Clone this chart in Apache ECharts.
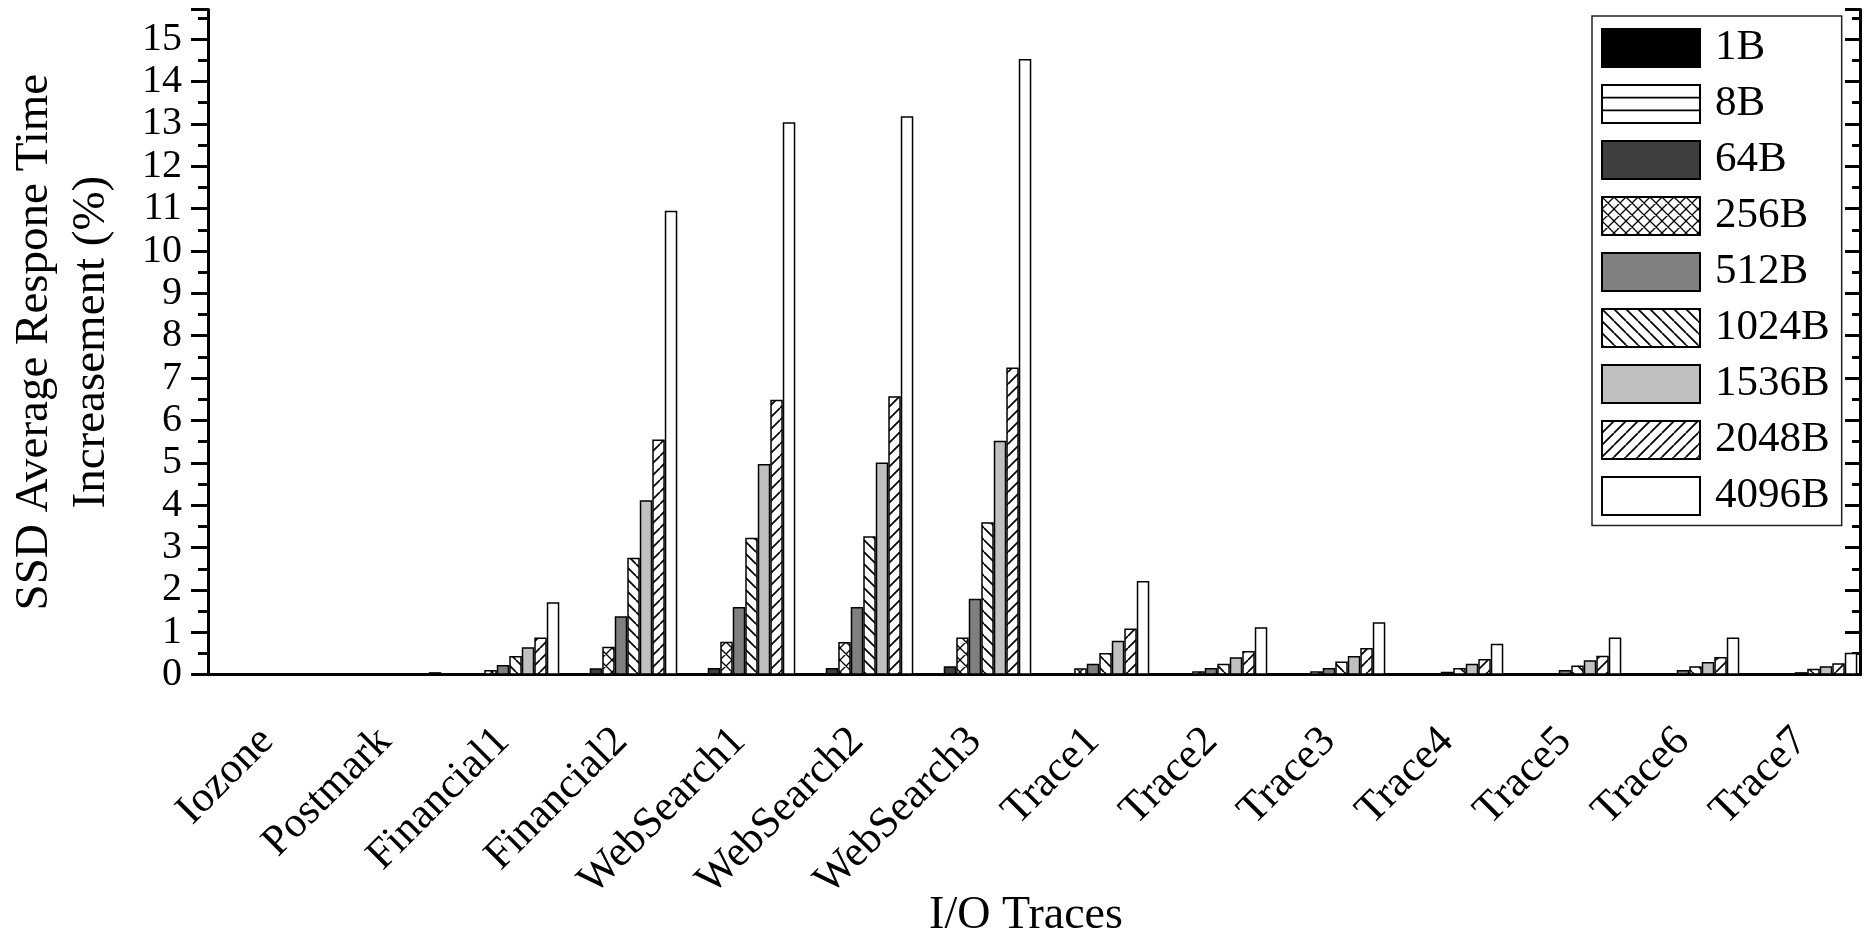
<!DOCTYPE html>
<html>
<head>
<meta charset="utf-8">
<script src="https://cdn.jsdelivr.net/npm/echarts@6/dist/echarts.min.js"></script>
<style>
html,body{margin:0;padding:0;background:#fff;}
#chart{width:1866px;height:936px;}
</style>
</head>
<body>
<div id="chart"></div>
<script>
// ---- data ----
const categories = ['Iozone','Postmark','Financial1','Financial2','WebSearch1','WebSearch2','WebSearch3','Trace1','Trace2','Trace3','Trace4','Trace5','Trace6','Trace7'];
const seriesNames = ['1B','8B','64B','256B','512B','1024B','1536B','2048B','4096B'];
const v1B    = [0,0,0,0,0,0,0,0,0,0,0,0,0,0];
const v8B    = [0,0,0,0,0,0,0,0,0,0,0,0,0,0];
const v64B   = [0,0,0,0.15,0.16,0.16,0.20,0,0,0,0,0,0,0];
const v256B  = [0,0,0.11,0.66,0.78,0.77,0.88,0.15,0.08,0.08,0.03,0.03,0.03,0.03];
const v512B  = [0,0,0.23,1.38,1.60,1.60,1.79,0.26,0.16,0.16,0.07,0.11,0.11,0.06];
const v1024B = [0,0,0.44,2.76,3.23,3.27,3.60,0.51,0.26,0.31,0.16,0.22,0.20,0.14];
const v1536B = [0,0,0.65,4.12,4.97,5.01,5.52,0.80,0.41,0.44,0.26,0.34,0.30,0.20];
const v2048B = [0,0,0.88,5.55,6.49,6.57,7.25,1.09,0.56,0.63,0.37,0.45,0.42,0.27];
const v4096B = [0,0.06,1.71,10.95,13.04,13.18,14.53,2.21,1.12,1.24,0.73,0.88,0.88,0.52];
const yTicks = [0,1,2,3,4,5,6,7,8,9,10,11,12,13,14,15];
const values = [v1B,v8B,v64B,v256B,v512B,v1024B,v1536B,v2048B,v4096B];

// ---- fills ----
function pattern(kind){
  const w = 12, h = (kind === 'horiz') ? 38 : 12;
  const c = document.createElement('canvas');
  c.width = w; c.height = h;
  const g = c.getContext('2d');
  g.fillStyle = '#fff'; g.fillRect(0,0,w,h);
  g.strokeStyle = '#000'; g.lineWidth = kind === 'cross' ? 1.3 : 1.7;
  g.beginPath();
  if (kind === 'back' || kind === 'cross') {
    for (let k=-1;k<=1;k++){ g.moveTo(k*w,0); g.lineTo(k*w+w,h); }
  }
  if (kind === 'fwd' || kind === 'cross') {
    for (let k=-1;k<=1;k++){ g.moveTo(k*w,h); g.lineTo(k*w+w,0); }
  }
  if (kind === 'horiz') { g.moveTo(0,12.67); g.lineTo(w,12.67); g.moveTo(0,25.33); g.lineTo(w,25.33); }
  g.stroke();
  return {image:c, repeat:'repeat'};
}
const fills = ['#000000', pattern('horiz'), '#3f3f3f', pattern('cross'), '#808080', pattern('back'), '#c0c0c0', pattern('fwd'), '#ffffff'];

const FONT = 'Liberation Serif';
const series = seriesNames.map((n,i)=>({
  name:n, type:'bar', data: values[i],
  barGap:'0%', barCategoryGap:'4.6%',
  itemStyle:{color: fills[i], borderColor:'#000', borderWidth:1.5},
  emphasis:{disabled:true}
}));

const chart = echarts.init(document.getElementById('chart'), null, {renderer:'canvas'});
chart.setOption({
  animation:false,
  backgroundColor:'#fff',
  grid:{left:208, right:6, top:9.5, bottom:261.3, containLabel:false, outerBoundsMode:'none'},
  legend:{
    orient:'vertical', left:1592, top:16, icon:'rect',
    itemWidth:98, itemHeight:38, itemGap:13,
    padding:[10.5,12,8,9],
    backgroundColor:'#fff', borderColor:'#222', borderWidth:1.5,
    textStyle:{fontFamily:FONT, fontSize:43, color:'#000', padding:[0,0,0,10]},
    data: seriesNames
  },
  xAxis:[{
    type:'category', data:categories, position:'bottom',
    axisLine:{lineStyle:{color:'#000', width:3}},
    axisTick:{alignWithLabel:true, inside:false, length:20, lineStyle:{width:3, color:'#000'}},
    axisLabel:{rotate:45, fontFamily:FONT, fontSize:43, color:'#000', margin:60, interval:0},
    name:'I/O Traces', nameLocation:'middle', nameGap:218, nameMoveOverlap:false,
    nameTextStyle:{fontFamily:FONT, fontSize:46, color:'#000', padding:[0,16,0,0]}
  },{
    type:'category', data:categories, position:'top',
    axisLine:{lineStyle:{color:'#000', width:3}},
    axisTick:{alignWithLabel:true, inside:true, length:14, lineStyle:{width:3, color:'#000'}},
    axisLabel:{show:false}
  }],
  yAxis:[{
    type:'value', min:0, max:15.7, interval:1, position:'left',
    axisLine:{show:true, lineStyle:{color:'#000', width:3}},
    axisTick:{show:true, inside:false, length:17, lineStyle:{width:3, color:'#000'}},
    minorTick:{show:true, splitNumber:2, length:10, lineStyle:{width:3, color:'#000'}},
    splitLine:{show:false},
    axisLabel:{fontFamily:FONT, fontSize:40, color:'#000', margin:26, showMaxLabel:false,
      formatter:(v)=> yTicks.indexOf(v) >= 0 ? String(v) : ''},
    name:'SSD Average Respone Time\nIncreasement (%)', nameLocation:'middle', nameGap:88, nameMoveOverlap:false,
    nameTextStyle:{fontFamily:FONT, fontSize:47, color:'#000', lineHeight:57}
  },{
    type:'value', min:0, max:15.7, interval:1, position:'right',
    axisLine:{show:true, lineStyle:{color:'#000', width:3}},
    axisTick:{show:true, inside:true, length:15, lineStyle:{width:3, color:'#000'}},
    minorTick:{show:true, splitNumber:2, length:8, lineStyle:{width:3, color:'#000'}},
    splitLine:{show:false},
    axisLabel:{show:false}
  }],
  series: series
});
</script>
</body>
</html>
